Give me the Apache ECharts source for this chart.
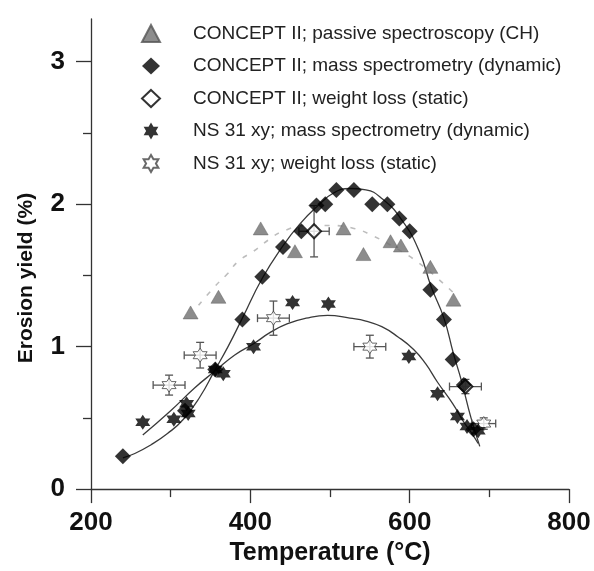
<!DOCTYPE html>
<html><head><meta charset="utf-8">
<script src="https://cdn.jsdelivr.net/npm/echarts@6/dist/echarts.min.js"></script>
<style>html,body{margin:0;padding:0;background:#fff}#c{width:594px;height:571px}</style>
</head><body><div id="c"></div>
<script>
// ---- data ----
const xTicks = [200, 400, 600, 800];
const yTicks = [0, 1, 2, 3];

// CONCEPT II; passive spectroscopy (CH) - grey triangles
const chTemp  = [325, 360, 413, 456, 517, 542, 576, 589, 626, 655];
const chYield = [1.24, 1.35, 1.83, 1.67, 1.83, 1.65, 1.74, 1.71, 1.56, 1.33];

// CONCEPT II; mass spectrometry (dynamic) - black diamonds
const msTemp  = [240, 318, 356, 390, 415, 441, 464, 483, 494, 508, 530, 553, 572, 587, 600, 626, 643, 654, 668, 680];
const msYield = [0.23, 0.55, 0.84, 1.19, 1.49, 1.70, 1.81, 1.99, 2.00, 2.10, 2.10, 2.00, 2.00, 1.90, 1.81, 1.40, 1.19, 0.91, 0.73, 0.42];

// CONCEPT II; weight loss (static) - open diamonds with error bars
const wlTemp  = [480, 670];
const wlYield = [1.81, 0.72];
const wlXErr  = [19, 20];
const wlYErr  = [0.18, 0.05];

// NS 31 xy; mass spectrometry (dynamic) - black stars
const nsTemp  = [265, 304, 320, 322, 356, 366, 404, 453, 498, 599, 635, 660, 672, 686];
const nsYield = [0.47, 0.49, 0.60, 0.53, 0.84, 0.81, 1.00, 1.31, 1.30, 0.93, 0.67, 0.51, 0.44, 0.41];

// NS 31 xy; weight loss (static) - open stars with error bars
const nwTemp  = [298, 337, 429, 550, 693];
const nwYield = [0.73, 0.94, 1.20, 1.00, 0.46];
const nwXErr  = [20, 20, 20, 20, 15];
const nwYErr  = [0.07, 0.09, 0.12, 0.08, 0.04];

// fitted curves
const conceptFitT = [240, 255, 275, 296, 316, 337, 355, 372, 390, 415, 440, 462, 485, 505, 525, 545, 565, 590, 612, 627, 643, 655, 665, 677, 688];
const conceptFitY = [0.22, 0.25, 0.31, 0.39, 0.49, 0.65, 0.83, 1.00, 1.20, 1.48, 1.70, 1.86, 1.99, 2.08, 2.11, 2.10, 2.04, 1.89, 1.67, 1.42, 1.20, 0.95, 0.76, 0.50, 0.30];
const nsFitT = [265, 300, 330, 356, 380, 404, 425, 446, 470, 497, 525, 545, 565, 585, 605, 620, 635, 654, 668, 677, 686];
const nsFitY = [0.38, 0.55, 0.71, 0.83, 0.94, 1.02, 1.10, 1.16, 1.20, 1.22, 1.20, 1.18, 1.14, 1.07, 0.98, 0.88, 0.75, 0.60, 0.47, 0.40, 0.32];
const chFitT = [335, 355, 371, 385, 404, 423, 441, 470, 500, 530, 553, 580, 611, 643, 660];
const chFitY = [1.29, 1.42, 1.51, 1.60, 1.67, 1.75, 1.81, 1.85, 1.85, 1.83, 1.78, 1.70, 1.59, 1.44, 1.35];

const names = [
  'CONCEPT II; passive spectroscopy (CH)',
  'CONCEPT II; mass spectrometry (dynamic)',
  'CONCEPT II; weight loss (static)',
  'NS 31 xy; mass spectrometry (dynamic)',
  'NS 31 xy; weight loss (static)'
];

// ---- build ----
const zip = (a, b) => a.map((v, i) => [v, b[i]]);
const zip4 = (a, b, c, d) => a.map((v, i) => [v, b[i], c[i], d[i]]);
const STAR = 'path://M0,-10 L2.89,-5 L8.66,-5 L5.77,0 L8.66,5 L2.89,5 L0,10 L-2.89,5 L-8.66,5 L-5.77,0 L-8.66,-5 L-2.89,-5 Z';
const FONT = 'Liberation Sans, Arial, Helvetica, sans-serif';

function errRender(params, api) {
  const x = api.value(0), y = api.value(1), dx = api.value(2), dy = api.value(3);
  const l = api.coord([x - dx, y]), r = api.coord([x + dx, y]);
  const t = api.coord([x, y + dy]), b = api.coord([x, y - dy]);
  const cap = 4;
  const st = { stroke: '#555', lineWidth: 1.3, fill: null };
  const ln = (x1, y1, x2, y2) => ({ type: 'line', shape: { x1, y1, x2, y2 }, style: st });
  return { type: 'group', children: [
    ln(l[0], l[1], r[0], r[1]),
    ln(l[0], l[1] - cap, l[0], l[1] + cap),
    ln(r[0], r[1] - cap, r[0], r[1] + cap),
    ln(t[0], t[1], b[0], b[1]),
    ln(t[0] - cap, t[1], t[0] + cap, t[1]),
    ln(b[0] - cap, b[1], b[0] + cap, b[1])
  ]};
}

const chart = echarts.init(document.getElementById('c'), null, { renderer: 'canvas' });
chart.setOption({
  animation: false,
  backgroundColor: '#fff',
  grid: { left: 91, right: 25, top: 19, bottom: 77, containLabel: false },
  legend: {
    orient: 'vertical', left: 136, top: 19, itemWidth: 18, itemHeight: 17, itemGap: 13.5,
    textStyle: { fontSize: 19, color: '#222', fontFamily: FONT, padding: [0, 0, 0, 28] },
    data: [
      { name: names[0], icon: 'triangle' },
      { name: names[1], icon: 'diamond' },
      { name: names[2], icon: 'emptyDiamond' },
      { name: names[3], icon: STAR },
      { name: names[4], icon: STAR }
    ]
  },
  xAxis: [{
    type: 'value', min: 200, max: 800, interval: 200,
    axisLine: { show: true, onZero: false, lineStyle: { color: '#333', width: 1.3 } },
    axisTick: { show: true, length: 14, lineStyle: { color: '#333', width: 1.3 } },
    minorTick: { show: true, splitNumber: 2, length: 8, lineStyle: { color: '#333', width: 1.3 } },
    splitLine: { show: false },
    axisLabel: { margin: 21, fontSize: 26, fontWeight: 'bold', color: '#111', fontFamily: FONT },
    name: 'Temperature (°C)', nameLocation: 'middle', nameGap: 45,
    nameTextStyle: { fontSize: 25, fontWeight: 'bold', color: '#111', fontFamily: FONT }
  }],
  yAxis: [{
    type: 'value', min: 0, max: 3.3,
    axisLine: { show: true, onZero: false, lineStyle: { color: '#333', width: 1.3 } },
    axisTick: { show: true, length: 15, customValues: yTicks, lineStyle: { color: '#333', width: 1.3 } },
    splitLine: { show: false },
    axisLabel: { margin: 26, fontSize: 26, fontWeight: 'bold', color: '#111', fontFamily: FONT, customValues: yTicks },
    name: 'Erosion yield (%)', nameLocation: 'middle', nameGap: 54, nameRotate: 90,
    nameTextStyle: { fontSize: 21, fontWeight: 'bold', color: '#111', fontFamily: FONT, padding: [0, 48, 0, 0] }
  }, {
    type: 'value', min: 0, max: 3.3, position: 'left',
    axisLine: { show: false },
    axisTick: { show: true, length: 8, customValues: [0.5, 1.5, 2.5], lineStyle: { color: '#333', width: 1.3 } },
    axisLabel: { show: false }, splitLine: { show: false }
  }],
  series: [
    { type: 'line', data: zip(chFitT, chFitY), smooth: true, symbol: 'none', silent: true,
      lineStyle: { color: '#bdbdbd', width: 1.6, type: [5, 8] }, z: 1 },
    { type: 'line', data: zip(conceptFitT, conceptFitY), smooth: true, symbol: 'none', silent: true,
      lineStyle: { color: '#3a3a3a', width: 1.3 }, z: 1 },
    { type: 'line', data: zip(nsFitT, nsFitY), smooth: true, symbol: 'none', silent: true,
      lineStyle: { color: '#3a3a3a', width: 1.3 }, z: 1 },
    { type: 'custom', renderItem: errRender, data: zip4(wlTemp, wlYield, wlXErr, wlYErr), z: 2, silent: true },
    { type: 'custom', renderItem: errRender, data: zip4(nwTemp, nwYield, nwXErr, nwYErr), z: 2, silent: true },
    { name: names[2], type: 'scatter', data: zip(wlTemp, wlYield), symbol: 'emptyDiamond', symbolSize: 14,
      itemStyle: { color: '#000', borderColor: '#000', borderWidth: 1.5 }, z: 3 },
    { name: names[4], type: 'scatter', data: zip(nwTemp, nwYield), symbol: STAR, symbolSize: 14,
      itemStyle: { color: '#fff', borderColor: '#444', borderWidth: 1 }, z: 3 },
    { name: names[0], type: 'scatter', data: zip(chTemp, chYield), symbol: 'triangle', symbolSize: [15, 13],
      itemStyle: { color: '#6f6f6f', borderColor: '#555', borderWidth: 0.5 }, z: 4 },
    { name: names[3], type: 'scatter', data: zip(nsTemp, nsYield), symbol: STAR, symbolSize: 15,
      itemStyle: { color: '#000' }, z: 5 },
    { name: names[1], type: 'scatter', data: zip(msTemp, msYield), symbol: 'diamond', symbolSize: 16,
      itemStyle: { color: '#000' }, z: 6 }
  ]
});
</script></body></html>
